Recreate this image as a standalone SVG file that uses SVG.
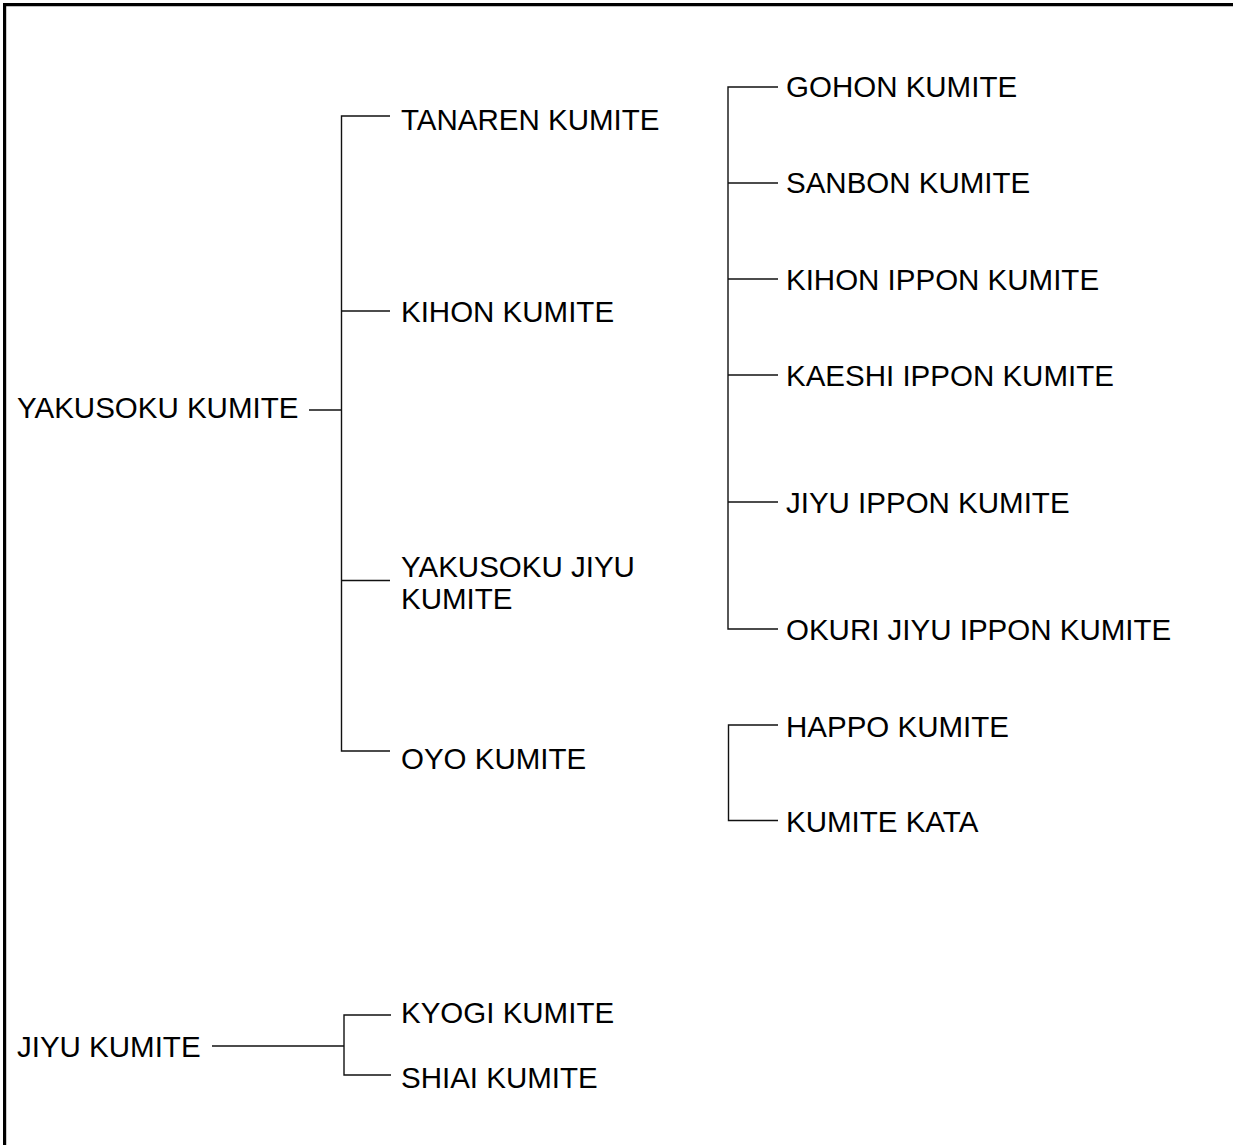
<svg xmlns="http://www.w3.org/2000/svg" width="1233" height="1145" viewBox="0 0 1233 1145">
<style>
.t{font-family:"Liberation Sans",Arial,sans-serif;font-size:29.5px;fill:#000}
.c{fill:none;stroke:#111;stroke-width:1.4}
.b{fill:none;stroke:#000;stroke-width:3.2}
</style>
<rect width="1233" height="1145" fill="#fff"/>
<path class="b" d="M4.6,1145 V4.6 H1233"/>
<g id="connectors">
<path class="c" d="M309,410 H341.5"/>
<path class="c" d="M390,116 H341.5 V751 H390"/>
<path class="c" d="M341.5,311 H390"/>
<path class="c" d="M341.5,580.5 H390"/>
<path class="c" d="M778,87 H728 V629 H778"/>
<path class="c" d="M728,183 H778"/>
<path class="c" d="M728,279 H778"/>
<path class="c" d="M728,375 H778"/>
<path class="c" d="M728,502 H778"/>
<path class="c" d="M778,725 H728.5 V820.5 H778"/>
<path class="c" d="M212,1046 H344"/>
<path class="c" d="M391,1015 H344 V1075 H391"/>
</g>
<g id="yakusoku-kumite"><text class="t" x="17" y="418">YAKUSOKU KUMITE</text></g>
<g id="tanaren-kumite"><text class="t" x="401" y="130">TANAREN KUMITE</text></g>
<g id="kihon-kumite"><text class="t" x="401" y="322">KIHON KUMITE</text></g>
<g id="yakusoku-jiyu-kumite"><text class="t" x="401" y="577">YAKUSOKU JIYU</text><text class="t" x="401" y="609">KUMITE</text></g>
<g id="oyo-kumite"><text class="t" x="401" y="769">OYO KUMITE</text></g>
<g id="gohon-kumite"><text class="t" x="786" y="97">GOHON KUMITE</text></g>
<g id="sanbon-kumite"><text class="t" x="786" y="193">SANBON KUMITE</text></g>
<g id="kihon-ippon-kumite"><text class="t" x="786" y="290">KIHON IPPON KUMITE</text></g>
<g id="kaeshi-ippon-kumite"><text class="t" x="786" y="386">KAESHI IPPON KUMITE</text></g>
<g id="jiyu-ippon-kumite"><text class="t" x="786" y="513">JIYU IPPON KUMITE</text></g>
<g id="okuri-jiyu-ippon-kumite"><text class="t" x="786" y="640">OKURI JIYU IPPON KUMITE</text></g>
<g id="happo-kumite"><text class="t" x="786" y="737">HAPPO KUMITE</text></g>
<g id="kumite-kata"><text class="t" x="786" y="832">KUMITE KATA</text></g>
<g id="jiyu-kumite"><text class="t" x="17" y="1057">JIYU KUMITE</text></g>
<g id="kyogi-kumite"><text class="t" x="401" y="1023">KYOGI KUMITE</text></g>
<g id="shiai-kumite"><text class="t" x="401" y="1088">SHIAI KUMITE</text></g>
</svg>
